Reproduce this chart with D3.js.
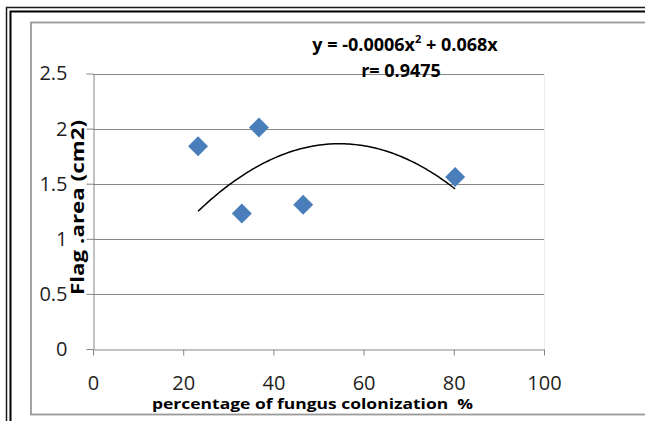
<!DOCTYPE html>
<meta charset="utf-8">
<script src="https://cdn.jsdelivr.net/npm/d3@7/dist/d3.min.js"></script>
<style>
  body { margin: 0; background: #fff; }
  text { font-family: "Open Sans", sans-serif; }
  .tick text { font-size: 20px; fill: #1f1f1f; }
  .tick line, .domain { stroke: #868686; }
  .grid line { stroke: #868686; }
  .bold { font-weight: bold; fill: #000; }
</style>
<div id="chart"></div>
<script>
// fungus colonization (%) vs flag leaf area (cm2)
const colonization = [23.3, 36.8, 33.0, 46.6, 80.3];
const flagArea = [1.84, 2.01, 1.23, 1.31, 1.56];
const xTicks = [0, 20, 40, 60, 80, 100];
const yTicks = [0, 0.5, 1, 1.5, 2, 2.5];
const eqLabel = "r= 0.9475";

const W = 645, H = 421;
const svg = d3.select("#chart").append("svg")
  .attr("width", W).attr("height", H);

// double frame + chart area border
svg.append("rect").attr("x", 6.5).attr("y", 7.5).attr("width", W + 20).attr("height", H + 20)
  .attr("fill", "none").attr("stroke", "#1a1a1a").attr("stroke-width", 1.5);
svg.append("rect").attr("x", 10.5).attr("y", 11.5).attr("width", W + 20).attr("height", H + 20)
  .attr("fill", "none").attr("stroke", "#000").attr("stroke-width", 2);
svg.append("rect").attr("x", 31).attr("y", 22.5).attr("width", W + 20).attr("height", 392)
  .attr("fill", "none").attr("stroke", "#9a9a9a").attr("stroke-width", 1.8);

const x = d3.scaleLinear().domain([0, 100]).range([93, 544]);
const y = d3.scaleLinear().domain([0, 2.5]).range([349, 73.5]);

// gridlines
svg.append("g").attr("class", "grid")
  .selectAll("line").data(yTicks.filter(d => d > 0)).join("line")
  .attr("x1", x(0)).attr("x2", x(100))
  .attr("y1", d => Math.round(y(d)) + 0.5).attr("y2", d => Math.round(y(d)) + 0.5);
svg.append("line").attr("x1", x(100) + 0.5).attr("x2", x(100) + 0.5)
  .attr("y1", y(2.5)).attr("y2", y(0)).attr("stroke", "#eeeeee");

// axes
svg.append("g").attr("transform", `translate(0,${Math.round(y(0)) + 0.5})`)
  .call(d3.axisBottom(x).tickValues(xTicks).tickSize(6).tickSizeOuter(0).tickPadding(20))
  .call(g => g.selectAll("text").attr("dy", "0.71em"));
svg.append("g").attr("transform", `translate(${Math.round(x(0)) + 0.5},0)`)
  .call(d3.axisLeft(y).tickValues(yTicks).tickSize(7).tickSizeOuter(0).tickPadding(19)
    .tickFormat(d3.format("")));
svg.selectAll(".tick text").style("font-family", "'Open Sans', sans-serif").attr("font-size", null);

// trendline: least squares through origin, y = a x^2 + b x
let s2 = 0, s3 = 0, s4 = 0, sxy = 0, sx2y = 0;
colonization.forEach((cx, i) => {
  const v = flagArea[i];
  s2 += cx * cx; s3 += cx ** 3; s4 += cx ** 4;
  sxy += cx * v; sx2y += cx * cx * v;
});
const det = s4 * s2 - s3 * s3;
const a = (sx2y * s2 - s3 * sxy) / det;
const b = (s4 * sxy - s3 * sx2y) / det;
const xs = d3.range(d3.min(colonization), d3.max(colonization) + 0.01, 0.5);
svg.append("path")
  .attr("d", d3.line().x(d => x(d)).y(d => y(a * d * d + b * d))(xs))
  .attr("fill", "none").attr("stroke", "#000").attr("stroke-width", 1.5);

// points
svg.append("g").selectAll("path").data(colonization).join("path")
  .attr("d", d3.symbol(d3.symbolSquare, 200))
  .attr("transform", (d, i) => `translate(${x(d)},${y(flagArea[i])}) rotate(45)`)
  .attr("fill", "#4a7ebb");

// equation text
const eq = svg.append("text").attr("class", "bold").attr("x", 405).attr("y", 51)
  .attr("text-anchor", "middle").attr("font-size", 18);
eq.append("tspan").text("y = -0.0006x");
eq.append("tspan").attr("font-size", 11).attr("dy", -8).text("2");
eq.append("tspan").attr("dy", 8).text(" + 0.068x");
svg.append("text").attr("class", "bold").attr("x", 401).attr("y", 77)
  .attr("text-anchor", "middle").attr("font-size", 18).text(eqLabel);

// axis titles
svg.append("text").attr("class", "bold")
  .attr("x", 152).attr("y", 409).attr("font-size", 15)
  .attr("textLength", 321).attr("lengthAdjust", "spacingAndGlyphs")
  .style("white-space", "pre")
  .text("percentage of fungus colonization  %");
svg.append("text").attr("class", "bold")
  .attr("transform", "translate(84,295) rotate(-90)").attr("font-size", 18)
  .attr("textLength", 175).attr("lengthAdjust", "spacingAndGlyphs")
  .text("Flag .area (cm2)");
</script>
